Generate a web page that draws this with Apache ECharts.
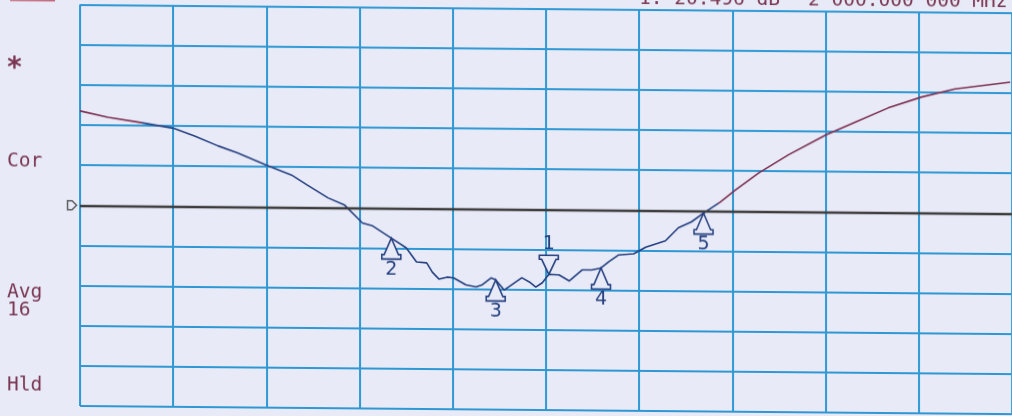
<!DOCTYPE html>
<html>
<head>
<meta charset="utf-8">
<script src="https://cdn.jsdelivr.net/npm/echarts/dist/echarts.min.js"></script>
<style>
html,body{margin:0;padding:0;background:#e8ebf7;overflow:hidden;width:1012px;height:416px;}
#c{position:absolute;left:0;top:-20px;width:1012px;height:456px;transform:skewY(0.5deg);transform-origin:80px 0;}
</style>
</head>
<body>
<div id="c"></div>
<script>
// Trace (x in horizontal divisions, y in vertical divisions from bottom)
const traceX = [0,0.30,0.61,1.00,1.23,1.48,1.69,2.00,2.27,2.44,2.66,2.84,3.03,3.14,3.34,3.50,3.61,3.72,3.78,3.85,3.94,4.01,4.14,4.25,4.31,4.41,4.46,4.55,4.60,4.74,4.82,4.89,4.96,5.03,5.14,5.25,5.39,5.49,5.59,5.67,5.78,5.94,6.07,6.28,6.42,6.56,6.69,6.87,7.03,7.28,7.60,8.00,8.32,8.67,9.03,9.39,9.98];
const traceY = [7.35,7.20,7.09,6.94,6.75,6.51,6.34,6.04,5.80,5.55,5.24,5.06,4.62,4.55,4.25,4.01,3.66,3.64,3.41,3.24,3.29,3.27,3.10,3.05,3.10,3.28,3.23,2.98,3.06,3.29,3.19,3.06,3.17,3.38,3.37,3.22,3.50,3.50,3.55,3.70,3.88,3.91,4.08,4.24,4.57,4.72,4.94,5.22,5.52,5.95,6.41,6.91,7.24,7.60,7.88,8.09,8.27];
// Markers
const markerNames = ['1','2','3','4','5'];
const markerX = [5.03,3.34,4.46,5.59,6.69];
const markerY = [3.38,4.25,3.23,3.55,4.94];
// Reference level (division)
const refLevel = 5;
// Annotation texts
const sideLabels = ['*','Cor','Avg','16','Hld'];
const headerMarker = '1:-20.496 dB';
const headerFreq = '2 000.000 000 MHz';

const BG = '#e8ebf7';
const NAVY = '#253f80';
const MAROON = '#7d2f52';
const GRIDC = '#2f98d3';
const TXT = '#7a3552';
const MONO = 'DejaVu Sans Mono';

const chart = echarts.init(document.getElementById('c'), null, {renderer:'canvas'});

const axisBase = {
  type:'value', min:0, max:10, interval:1,
  axisLine:{show:false}, axisTick:{show:false}, axisLabel:{show:false},
  splitLine:{show:true, showMinLine:true, showMaxLine:true, lineStyle:{color:GRIDC, width:2}}
};

const upPath = 'path://M9,0 L3,15 L1,15 L1,19 L17,19 L17,15 L15,15 Z';
const downPath = 'path://M1,0 L17,0 L17,4 L15,4 L9,19 L3,4 L1,4 Z';

const markerData = markerX.map((x,i)=>({name:markerNames[i], value:[x, markerY[i]]}));

const option = {
  backgroundColor: BG,
  animation:false,
  grid:{left:80, right:-2, top:24.5, bottom:30},
  xAxis: axisBase,
  yAxis: axisBase,
  visualMap:{
    type:'piecewise', show:false, dimension:0, seriesIndex:0,
    pieces:[
      {lt:0.66, color:MAROON},
      {gte:0.66, lt:6.85, color:NAVY},
      {gte:6.85, color:MAROON}
    ]
  },
  series:[
    {
      type:'line',
      data: traceX.map((x,i)=>[x, traceY[i]]),
      showSymbol:false,
      lineStyle:{width:1.6},
      z:3,
      markLine:{
        silent:true, symbol:['none','none'],
        label:{show:false},
        lineStyle:{color:'#3b3b3b', width:2.4, type:'solid'},
        data:[{yAxis:refLevel}]
      }
    },
    {
      type:'scatter',
      data: markerData.slice(1),
      symbol: upPath,
      symbolSize:[19,21],
      symbolOffset:[0,10.5],
      itemStyle:{color:BG, borderColor:NAVY, borderWidth:1.6, opacity:1},
      label:{show:true, position:'bottom', distance:0, formatter:'{b}', color:NAVY, fontSize:19, fontFamily:'DejaVu Sans'},
      z:5
    },
    {
      type:'scatter',
      data: markerData.slice(0,1),
      symbol: downPath,
      symbolSize:[19,19],
      symbolOffset:[0,-9.5],
      itemStyle:{color:BG, borderColor:NAVY, borderWidth:1.6, opacity:1},
      label:{show:true, position:'top', distance:1, formatter:'{b}', color:NAVY, fontSize:19, fontFamily:'DejaVu Sans'},
      z:5
    },
    {
      type:'scatter',
      data:[[0, refLevel]],
      symbol:'path://M0,0 L5,0 L10,5 L5,10 L0,10 Z',
      symbolSize:[9,9],
      symbolOffset:[-8,0],
      itemStyle:{color:BG, borderColor:'#3b3b3b', borderWidth:1.5},
      z:6
    }
  ],
  graphic:[
    {type:'text', style:{x:14.5, y:90, text:sideLabels[0], align:'center', verticalAlign:'middle', font:'bold 28px '+MONO, fill:TXT}},
    {type:'text', style:{x:7, y:182, text:sideLabels[1], verticalAlign:'middle', font:'19.5px '+MONO, fill:TXT}},
    {type:'text', style:{x:7, y:312.5, text:sideLabels[2], verticalAlign:'middle', font:'19.5px '+MONO, fill:TXT}},
    {type:'text', style:{x:7, y:330.8, text:sideLabels[3], verticalAlign:'middle', font:'19.5px '+MONO, fill:TXT}},
    {type:'text', style:{x:7, y:405.8, text:sideLabels[4], verticalAlign:'middle', font:'19.5px '+MONO, fill:TXT}},
    {type:'text', style:{x:639, y:13.8, text:headerMarker, verticalAlign:'middle', font:'19.5px '+MONO, fill:TXT}},
    {type:'text', style:{x:808, y:13.8, text:headerFreq, verticalAlign:'middle', font:'19.5px '+MONO, fill:TXT}},
    {type:'rect', shape:{x:10, y:19, width:45, height:2.5}, style:{fill:'#c05a70'}}
  ]
};
chart.setOption(option);
</script>
</body>
</html>
